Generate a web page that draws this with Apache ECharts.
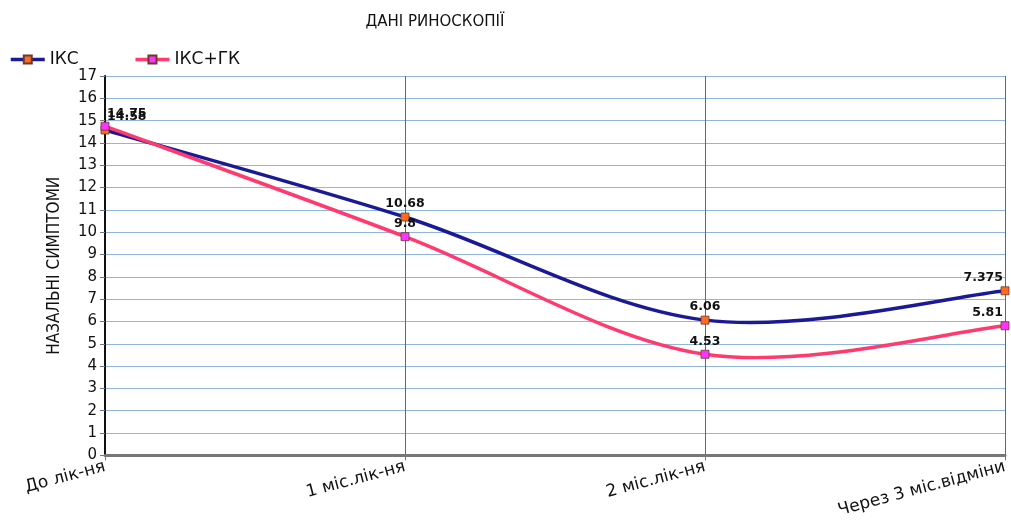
<!DOCTYPE html>
<html>
<head>
<meta charset="utf-8">
<script src="https://cdn.jsdelivr.net/npm/echarts@6/dist/echarts.min.js"></script>
<style>
  html, body { margin: 0; padding: 0; background: #fff; }
  #chart { width: 1011px; height: 520px; }
</style>
</head>
<body>
<div id="chart"></div>
<script>
// Rhinoscopy scores across treatment stages
const categories = ['До лік-ня', '1 міс.лік-ня', '2 міс.лік-ня', 'Через 3 міс.відміни'];
const seriesNames = ['ІКС', 'ІКС+ГК'];
const iksValues = [14.58, 10.68, 6.06, 7.375];
const iksGkValues = [14.75, 9.8, 4.53, 5.81];
const yTicks = { min: 0, max: 17, interval: 1 };

const chart = echarts.init(document.getElementById('chart'));
const font = 'DejaVu Sans';
const blue = '#1a1a96';
const pink = '#ff3a6e';

// Cardinal-spline curve through the series points (tension 1/6), drawn once per series
function curveSeries(name, values, color) {
  return {
    name: name + ' curve',
    type: 'custom',
    silent: true,
    z: 1,
    data: [[0, values[0]]],
    renderItem: function (params, api) {
      const pts = values.map(function (v, i) { return api.coord([i, v]); });
      const path = [];
      path.push('M' + pts[0][0] + ' ' + pts[0][1]);
      for (let i = 0; i < pts.length - 1; i++) {
        const p0 = pts[Math.max(i - 1, 0)];
        const p1 = pts[i];
        const p2 = pts[i + 1];
        const p3 = pts[Math.min(i + 2, pts.length - 1)];
        const c1 = [p1[0] + (p2[0] - p0[0]) / 6, p1[1] + (p2[1] - p0[1]) / 6];
        const c2 = [p2[0] - (p3[0] - p1[0]) / 6, p2[1] - (p3[1] - p1[1]) / 6];
        path.push('C' + c1[0] + ' ' + c1[1] + ' ' + c2[0] + ' ' + c2[1] + ' ' + p2[0] + ' ' + p2[1]);
      }
      return {
        type: 'path',
        shape: { pathData: path.join(' ') },
        style: { fill: 'none', stroke: color, lineWidth: 3.5 }
      };
    }
  };
}

function markerSeries(name, values, lineColor, markColor) {
  const data = values.map(function (v, i) {
    const item = { value: v };
    if (i === 0) item.label = { align: 'left', offset: [2, 0] };
    if (i === values.length - 1) item.label = { align: 'right', offset: [-2, 0] };
    return item;
  });
  return {
    name: name,
    type: 'line',
    data: data,
    symbol: 'rect',
    symbolSize: 8,
    showSymbol: true,
    lineStyle: { color: lineColor, width: 3.5, opacity: 0 },
    itemStyle: { color: markColor, borderColor: '#6a3a2a', borderWidth: 0.8 },
    label: {
      show: true,
      position: 'top',
      distance: 2,
      color: '#111',
      fontFamily: font,
      fontWeight: 'bold',
      fontSize: 12.5
    },
    z: 3
  };
}

chart.setOption({
  animation: false,
  title: {
    text: 'ДАНІ РИНОСКОПІЇ',
    left: 430, top: 10,
    textAlign: 'center',
    textStyle: { fontFamily: font, fontSize: 15, fontWeight: 'normal', color: '#111' }
  },
  legend: {
    left: 4, top: 46,
    itemWidth: 34, itemHeight: 10,
    itemGap: 55,
    textStyle: { fontFamily: font, fontSize: 17, color: '#111' },
    data: [
      { name: seriesNames[0], lineStyle: { color: blue, width: 3.5, opacity: 1 } },
      { name: seriesNames[1], lineStyle: { color: pink, width: 3.5, opacity: 1 } }
    ]
  },
  grid: { left: 105, right: 6, top: 76, bottom: 64, containLabel: false },
  xAxis: {
    type: 'category',
    data: categories,
    boundaryGap: false,
    axisLine: { lineStyle: { color: '#777', width: 3 } },
    axisTick: { show: true, lineStyle: { color: '#777' } },
    axisLabel: {
      rotate: 15, fontFamily: font, fontSize: 17, color: '#111',
      margin: 11
    },
    splitLine: { show: true, lineStyle: { color: '#3a6fb0', width: 1 } }
  },
  yAxis: {
    type: 'value',
    min: yTicks.min, max: yTicks.max, interval: yTicks.interval,
    name: 'НАЗАЛЬНІ СИМПТОМИ',
    nameLocation: 'middle',
    nameRotate: 90,
    nameGap: 42,
    nameTextStyle: { fontFamily: 'Liberation Sans Narrow, DejaVu Sans Condensed, sans-serif', fontSize: 17, color: '#111' },
    axisLine: { show: true, lineStyle: { color: '#111', width: 2 } },
    axisTick: { show: true, length: 5, lineStyle: { color: '#777' } },
    axisLabel: { fontFamily: font, fontSize: 15, color: '#111', margin: 8 },
    splitLine: { show: true, lineStyle: { color: '#8fb6e0', width: 1 } }
  },
  series: [
    curveSeries(seriesNames[0], iksValues, blue),
    curveSeries(seriesNames[1], iksGkValues, pink),
    markerSeries(seriesNames[0], iksValues, blue, '#ff6a20'),
    markerSeries(seriesNames[1], iksGkValues, pink, '#ff33ff')
  ]
});
</script>
</body>
</html>
